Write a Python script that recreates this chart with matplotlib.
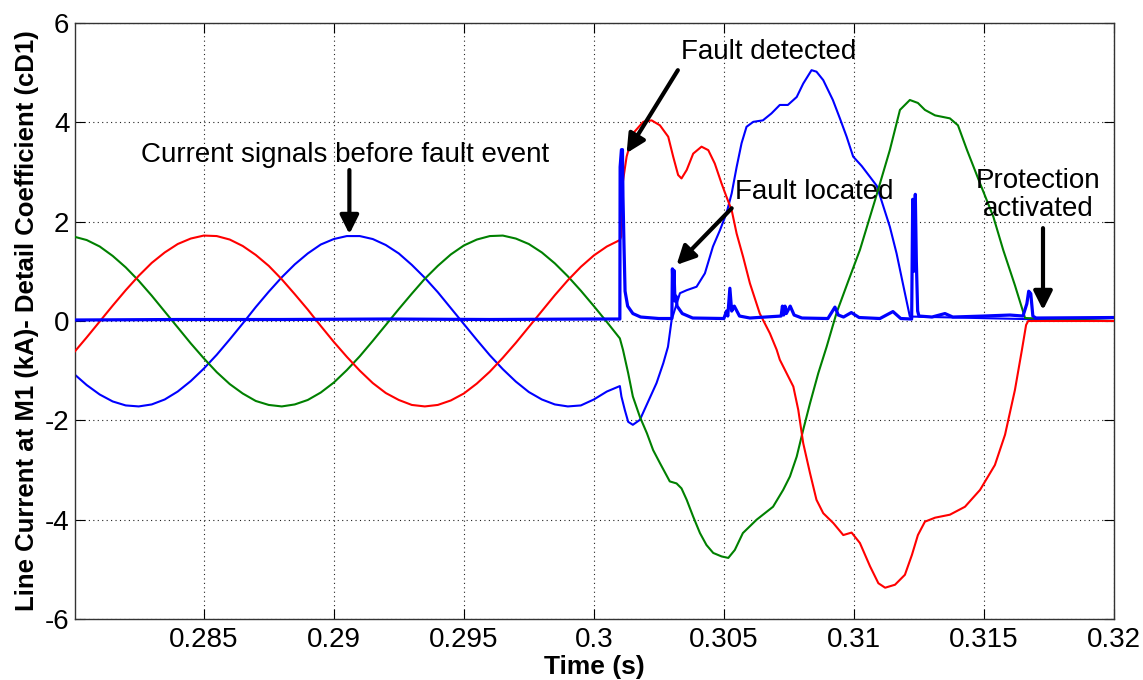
import numpy as np
import matplotlib
matplotlib.use("Agg")
import matplotlib.pyplot as plt

plt.rcParams['font.family'] = ['Liberation Sans', 'DejaVu Sans']
plt.rcParams['axes.unicode_minus'] = False

# pre-fault samples (s), read every 0.5 ms
t_pre = [0.2800, 0.2805, 0.2810, 0.2815, 0.2820, 0.2825, 0.2830, 0.2835, 0.2840, 0.2845,
         0.2850, 0.2855, 0.2860, 0.2865, 0.2870, 0.2875, 0.2880, 0.2885, 0.2890, 0.2895,
         0.2900, 0.2905, 0.2910, 0.2915, 0.2920, 0.2925, 0.2930, 0.2935, 0.2940, 0.2945,
         0.2950, 0.2955, 0.2960, 0.2965, 0.2970, 0.2975, 0.2980, 0.2985, 0.2990, 0.2995,
         0.3000, 0.3005, 0.3010]
red_pre = [-0.64, -0.33, -0.01, 0.31, 0.62, 0.91, 1.17, 1.38, 1.55, 1.66,
           1.72, 1.71, 1.64, 1.51, 1.33, 1.11, 0.84, 0.54, 0.23, -0.10,
           -0.42, -0.72, -1.00, -1.25, -1.45, -1.59, -1.69, -1.72, -1.69, -1.60,
           -1.46, -1.26, -1.02, -0.74, -0.44, -0.12, 0.20, 0.52, 0.82, 1.09,
           1.32, 1.50, 1.63]
blue_pre = [-1.06, -1.29, -1.48, -1.62, -1.70, -1.72, -1.68, -1.58, -1.42, -1.21,
            -0.96, -0.68, -0.37, -0.05, 0.28, 0.59, 0.88, 1.14, 1.36, 1.54,
            1.65, 1.71, 1.71, 1.65, 1.53, 1.36, 1.13, 0.87, 0.58, 0.26,
            -0.06, -0.38, -0.69, -0.97, -1.22, -1.43, -1.58, -1.68, -1.72, -1.70,
            -1.58, -1.42, -1.31]
green_pre = [1.70, 1.63, 1.50, 1.31, 1.08, 0.81, 0.51, 0.19, -0.13, -0.45,
             -0.75, -1.03, -1.27, -1.46, -1.61, -1.69, -1.72, -1.68, -1.59, -1.44,
             -1.24, -0.99, -0.71, -0.40, -0.08, 0.24, 0.55, 0.85, 1.11, 1.34,
             1.52, 1.64, 1.71, 1.72, 1.66, 1.55, 1.38, 1.16, 0.90, 0.61,
             0.30, -0.02, -0.35]

# post-fault traces
t_red_post = [0.30105, 0.30107, 0.30126, 0.30151, 0.3019, 0.30222, 0.30254, 0.30286, 0.30305, 0.30324,
              0.30337, 0.30357, 0.30382, 0.30414, 0.3044, 0.30465, 0.30491, 0.3051, 0.3053, 0.30549,
              0.30574, 0.306, 0.30638, 0.30677, 0.30703, 0.30715, 0.30741, 0.30767, 0.30786, 0.30805,
              0.30831, 0.30856, 0.30882, 0.30921, 0.30959, 0.30991, 0.31023, 0.31062, 0.31094, 0.3112,
              0.31158, 0.31196, 0.31223, 0.31246, 0.31273, 0.31312, 0.31369, 0.31427, 0.31485, 0.31542,
              0.31581, 0.31619, 0.31646, 0.31662, 0.3167, 0.3200]
red_post = [1.70, 2.64, 3.31, 3.78, 4.01, 4.04, 3.94, 3.71, 3.31, 2.94,
            2.87, 3.04, 3.37, 3.51, 3.44, 3.17, 2.77, 2.50, 2.23, 1.76,
            1.29, 0.76, 0.15, -0.25, -0.58, -0.78, -1.05, -1.32, -1.79, -2.46,
            -3.06, -3.60, -3.87, -4.07, -4.31, -4.26, -4.47, -4.94, -5.28, -5.37,
            -5.31, -5.11, -4.71, -4.31, -4.04, -3.96, -3.90, -3.74, -3.40, -2.90,
            -2.29, -1.39, -0.58, -0.08, 0.00, 0.00]

t_green_post = [0.30112, 0.30132, 0.3015, 0.30177, 0.30204, 0.30228, 0.30254, 0.30292, 0.30318, 0.30337,
                0.30357, 0.30382, 0.30408, 0.30433, 0.30459, 0.30491, 0.30517, 0.30542, 0.30573, 0.30626,
                0.30689, 0.30728, 0.30754, 0.3078, 0.30805, 0.30831, 0.30863, 0.30895, 0.30933, 0.30978,
                0.31023, 0.31081, 0.31138, 0.31177, 0.31215, 0.31246, 0.31273, 0.31312, 0.31369, 0.314,
                0.31435, 0.31485, 0.31536, 0.31574, 0.31619, 0.31658, 0.3200]
green_post = [-0.58, -1.05, -1.52, -1.93, -2.26, -2.60, -2.86, -3.23, -3.27, -3.37,
              -3.60, -3.94, -4.27, -4.51, -4.67, -4.74, -4.77, -4.61, -4.27, -4.00,
              -3.74, -3.40, -3.13, -2.73, -2.19, -1.66, -1.05, -0.52, 0.16, 0.80,
              1.43, 2.43, 3.44, 4.25, 4.45, 4.39, 4.25, 4.14, 4.08, 3.94,
              3.44, 2.77, 2.10, 1.43, 0.72, 0.06, 0.00]

t_blue_post = [0.30106, 0.30119, 0.30132, 0.3015, 0.30177, 0.30209, 0.30241, 0.30267, 0.30285, 0.30299,
               0.30331, 0.30357, 0.30395, 0.30427, 0.30458, 0.30485, 0.3051, 0.3053, 0.30549, 0.30568,
               0.30587, 0.30613, 0.3065, 0.30683, 0.30715, 0.30746, 0.3078, 0.30805, 0.30837, 0.30856,
               0.30882, 0.30919, 0.30946, 0.30972, 0.30997, 0.3103, 0.31062, 0.31088, 0.31138, 0.31164,
               0.31188, 0.31215, 0.3200]
blue_post = [-1.52, -1.79, -2.03, -2.09, -1.99, -1.62, -1.25, -0.85, -0.52, 0.02,
             0.56, 0.62, 0.69, 0.96, 1.50, 1.83, 2.17, 2.57, 3.10, 3.58,
             3.91, 4.01, 4.04, 4.18, 4.35, 4.35, 4.51, 4.78, 5.05, 5.02,
             4.85, 4.45, 4.08, 3.71, 3.31, 3.12, 2.90, 2.72, 1.90, 1.36,
             0.76, 0.09, 0.00]

# detail coefficient cD1
t_cd1 = [0.2800, 0.2840, 0.2880, 0.2920, 0.2960, 0.3000, 0.30100, 0.30101, 0.30106, 0.30110,
         0.30112, 0.30116, 0.3012, 0.3013, 0.3015, 0.3018, 0.3025, 0.30300, 0.30302, 0.30305,
         0.30308, 0.30312, 0.30316, 0.3032, 0.3034, 0.3038, 0.3050, 0.3051, 0.30515, 0.30523,
         0.3053, 0.3054, 0.3056, 0.3060, 0.3072, 0.30725, 0.3073, 0.30735, 0.3074, 0.30755,
         0.3077, 0.3080, 0.3090, 0.30927, 0.3094, 0.3096, 0.3099, 0.3102, 0.3110, 0.3115,
         0.3118, 0.31222, 0.31226, 0.31230, 0.31236, 0.31240, 0.31245, 0.3125, 0.3130, 0.3135,
         0.3138, 0.3150, 0.3160, 0.3165, 0.31665, 0.31672, 0.3168, 0.31688, 0.3170, 0.3200]
cd1 = [0.02, 0.03, 0.03, 0.04, 0.03, 0.04, 0.04, 3.10, 3.45, 3.45,
       2.50, 1.50, 0.60, 0.30, 0.15, 0.08, 0.05, 0.05, 1.05, 0.60,
       1.02, 0.40, 0.50, 0.30, 0.15, 0.06, 0.05, 0.20, 0.10, 0.66,
       0.20, 0.30, 0.10, 0.06, 0.10, 0.30, 0.12, 0.30, 0.15, 0.30,
       0.12, 0.06, 0.05, 0.28, 0.12, 0.08, 0.17, 0.07, 0.05, 0.19,
       0.05, 0.04, 2.45, 1.00, 2.55, 1.20, 0.20, 0.10, 0.08, 0.15,
       0.08, 0.10, 0.12, 0.10, 0.35, 0.60, 0.55, 0.10, 0.06, 0.07]

fig = plt.figure(figsize=(11.43, 6.80), dpi=100)
ax = fig.add_axes([75 / 1143, 61 / 680, 1039 / 1143, 596 / 680])

ax.plot(t_pre + t_blue_post, blue_pre + blue_post, color='#0000ff', lw=1.5, zorder=2)
ax.plot(t_pre + t_green_post, green_pre + green_post, color='#008000', lw=1.5, zorder=3)
ax.plot(t_pre + t_red_post, red_pre + red_post, color='#ff0000', lw=1.5, zorder=4)
ax.plot(t_cd1, cd1, color='#0000ff', lw=2.3, zorder=5)

ax.set_xlim(0.28005, 0.32)
ax.set_ylim(-6, 6)
ax.set_xticks([0.285, 0.29, 0.295, 0.3, 0.305, 0.31, 0.315, 0.32])
ax.set_xticklabels(['0.285', '0.29', '0.295', '0.3', '0.305', '0.31', '0.315', '0.32'])
ax.set_yticks([-6, -4, -2, 0, 2, 4, 6])
ax.tick_params(direction='in', top=True, right=True, length=7.5, width=0.8, labelsize=20)
ax.tick_params(axis='x', pad=6)
ax.tick_params(axis='y', pad=4)
ax.grid(True, linestyle=(0, (1, 3)), color='#222222', lw=0.8)
for s in ax.spines.values():
    s.set_linewidth(1.0)
    s.set_color('#333333')

ax.set_xlabel('Time (s)', fontsize=19, fontweight='bold', labelpad=1)
ax.set_ylabel('Line Current at M1 (kA)- Detail Coefficient (cD1)', fontsize=18.5,
              fontweight='bold', labelpad=4)

arrow = dict(arrowstyle='-|>', lw=3, color='k', mutation_scale=28, shrinkA=0, shrinkB=0)
ax.annotate('', xy=(0.2906, 1.75), xytext=(0.2906, 3.04), arrowprops=arrow, zorder=6)
ax.text(0.29042, 3.34, 'Current signals before fault event', fontsize=20, ha='center', va='center')

ax.annotate('', xy=(0.30126, 3.38), xytext=(0.30323, 5.05), arrowprops=arrow, zorder=6)
ax.text(0.30673, 5.41, 'Fault detected', fontsize=20, ha='center', va='center')

ax.annotate('', xy=(0.30318, 1.13), xytext=(0.3053, 2.27), arrowprops=arrow, zorder=6)
ax.text(0.30846, 2.6, 'Fault located', fontsize=20, ha='center', va='center')

ax.annotate('', xy=(0.31727, 0.22), xytext=(0.31727, 1.87), arrowprops=arrow, zorder=6)
ax.text(0.31708, 2.54, 'Protection\nactivated', fontsize=20, ha='center', va='center',
        linespacing=1.1)

fig.savefig('out.png', dpi=100)
